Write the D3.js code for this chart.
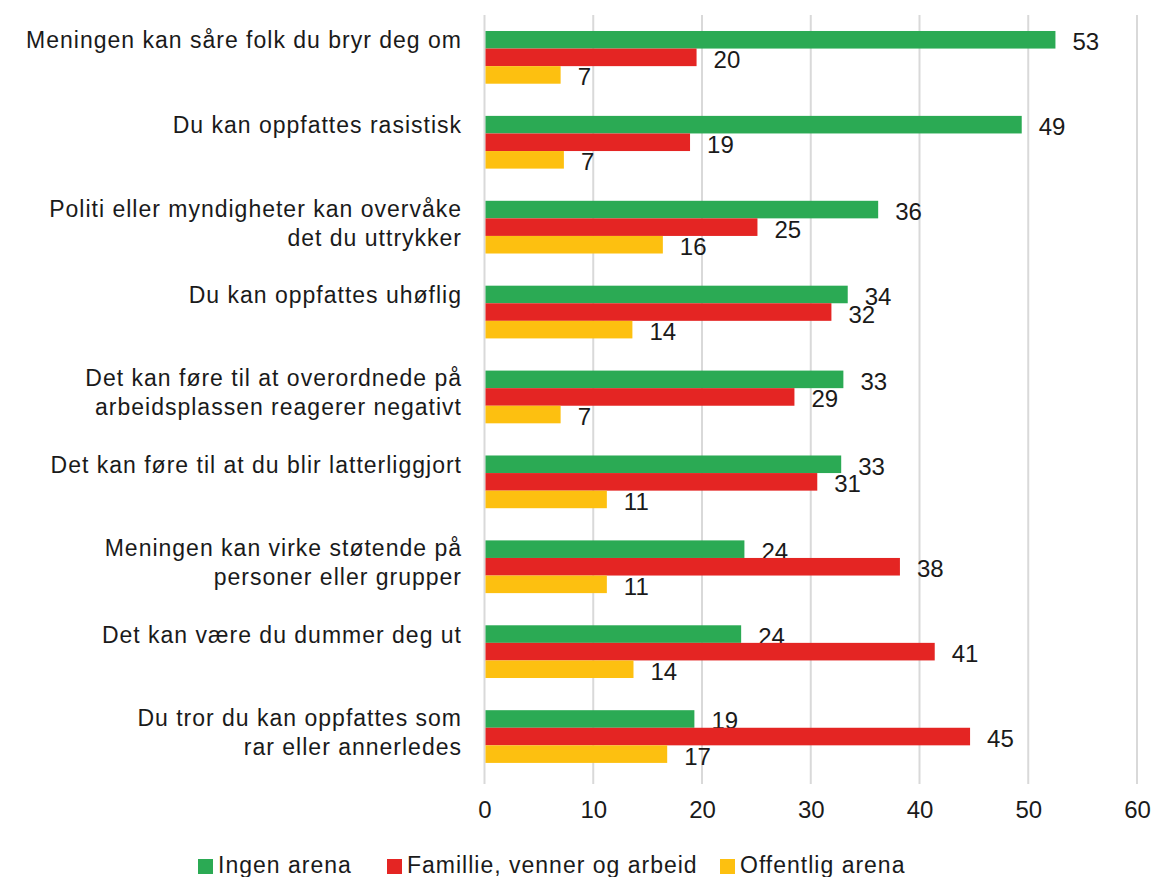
<!DOCTYPE html>
<html>
<head>
<meta charset="utf-8">
<script src="https://cdn.jsdelivr.net/npm/d3@7"></script>
<style>
  html, body { margin: 0; padding: 0; background: #ffffff; }
  svg { display: block; font-family: "Liberation Sans", Arial, Helvetica, sans-serif; }
</style>
</head>
<body>
<svg id="chart" width="1153" height="877"></svg>
<script>
// ---- Data ----
const categories = [
  ["Meningen kan såre folk du bryr deg om"],
  ["Du kan oppfattes rasistisk"],
  ["Politi eller myndigheter kan overvåke", "det du uttrykker"],
  ["Du kan oppfattes uhøflig"],
  ["Det kan føre til at overordnede på", "arbeidsplassen reagerer negativt"],
  ["Det kan føre til at du blir latterliggjort"],
  ["Meningen kan virke støtende på", "personer eller grupper"],
  ["Det kan være du dummer deg ut"],
  ["Du tror du kan oppfattes som", "rar eller annerledes"]
];
const legendLabels = ["Ingen arena", "Famillie, venner og arbeid", "Offentlig arena"];
// bar lengths
const ingenArena     = [52.5, 49.4, 36.2, 33.4, 33.0, 32.8, 23.9, 23.6, 19.3];
const familieArena   = [19.5, 18.9, 25.1, 31.9, 28.5, 30.6, 38.2, 41.4, 44.65];
const offentligArena = [7.0, 7.3, 16.4, 13.6, 7.0, 11.25, 11.25, 13.7, 16.8];
// printed value labels
const ingenLabels     = ["53", "49", "36", "34", "33", "33", "24", "24", "19"];
const familieLabels   = ["20", "19", "25", "32", "29", "31", "38", "41", "45"];
const offentligLabels = ["7", "7", "16", "14", "7", "11", "11", "14", "17"];
const xTicks = [0, 10, 20, 30, 40, 50, 60];
const colors = ["#2baa54", "#e42523", "#fdc010"];

const seriesValues = [ingenArena, familieArena, offentligArena];
const seriesLabels = [ingenLabels, familieLabels, offentligLabels];

// ---- Layout ----
const svg = d3.select("#chart");
const x = d3.scaleLinear().domain([0, 60]).range([484.5, 1137]);
const y = d3.scaleBand().domain(d3.range(categories.length)).range([14.9, 779]).paddingInner(0.379).paddingOuter(0.1895);
const ySub = d3.scaleBand().domain(d3.range(3)).range([0, y.bandwidth()]);

const catFont = "23px";
const catSpacing = "1px";

// gridlines
svg.append("g").selectAll("line").data(xTicks).join("line")
  .attr("x1", d => x(d)).attr("x2", d => x(d))
  .attr("y1", 15).attr("y2", 784)
  .attr("stroke", "#d9d9d9").attr("stroke-width", 2);

// bars
const groups = svg.append("g").selectAll("g").data(categories).join("g")
  .attr("transform", (d, i) => `translate(0,${y(i)})`);

groups.each(function(d, i) {
  const g = d3.select(this);
  for (let s = 0; s < 3; s++) {
    const v = seriesValues[s][i];
    g.append("rect")
      .attr("x", x(0) + 1)
      .attr("y", ySub(s))
      .attr("width", x(v) - x(0) - 1)
      .attr("height", ySub.bandwidth())
      .attr("fill", colors[s]);
    g.append("text")
      .attr("x", x(v) + 17)
      .attr("y", ySub(s) + ySub.bandwidth() / 2 + 10.5)
      .attr("font-size", "24px")
      .attr("fill", "#1a1a1a")
      .text(seriesLabels[s][i]);
  }
});

// category labels
categories.forEach((lines, i) => {
  const c = y(i) + y.bandwidth() / 2;
  const t = svg.append("text")
    .attr("text-anchor", "end")
    .attr("font-size", catFont)
    .attr("letter-spacing", catSpacing)
    .attr("fill", "#1a1a1a");
  const baselines = lines.length === 1 ? [c - 9] : [c - 10.5, c + 18.5];
  lines.forEach((ln, k) => {
    t.append("tspan").attr("x", 462).attr("y", baselines[k]).text(ln);
  });
});

// x axis tick labels
const xAxis = d3.axisBottom(x).tickValues(xTicks).tickSize(0).tickPadding(0);
const ax = svg.append("g").attr("transform", "translate(0,800)").call(xAxis);
ax.select(".domain").remove();
ax.selectAll("text")
  .attr("font-size", "24px")
  .attr("font-family", "Liberation Sans, Arial, sans-serif")
  .attr("fill", "#1a1a1a")
  .attr("dy", null)
  .attr("y", 18);

// legend
const legendX = [198, 387, 720];
const lg = svg.append("g");
legendLabels.forEach((name, s) => {
  lg.append("rect").attr("x", legendX[s]).attr("y", 859).attr("width", 15).attr("height", 15).attr("fill", colors[s]);
  lg.append("text").attr("x", legendX[s] + 20).attr("y", 873)
    .attr("font-size", catFont).attr("letter-spacing", catSpacing)
    .attr("fill", "#1a1a1a").text(name);
});
</script>
</body>
</html>
